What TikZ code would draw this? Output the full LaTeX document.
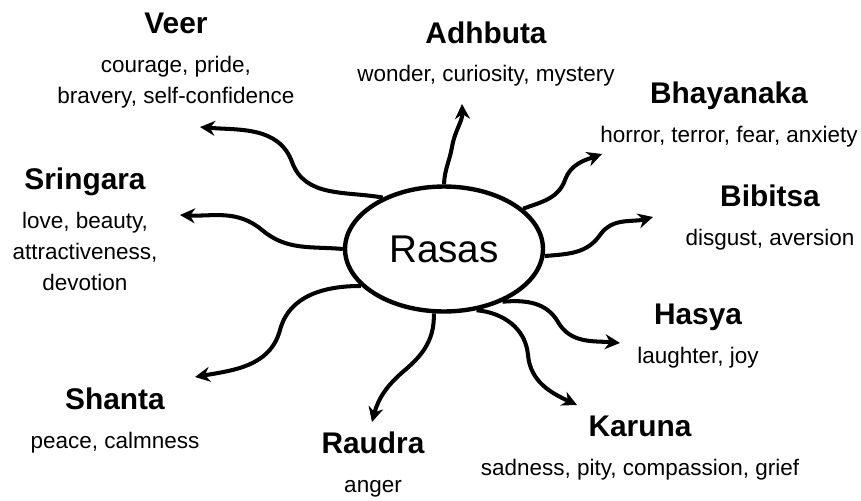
\documentclass[tikz,border=0pt]{standalone}
\usepackage{fontspec}
\setmainfont{Liberation Sans}
\usetikzlibrary{arrows.meta,positioning,shapes.geometric}
\tikzset{
	>={Stealth[length=8.5pt,width=8.5pt]},
}
\newcommand{\rasahead}[1]{{\fontsize{17}{20}\selectfont\bfseries #1}\\[4.5pt]}

\begin{document}
\begin{tikzpicture}[x=0.02cm, y=-0.02cm,
hub/.style = {ellipse, draw, line width=2.5pt, minimum width=3.96cm, minimum height=2.5cm, inner sep=0, font=\fontsize{22}{26}\selectfont},
rasa/.style = {align=center, anchor=base, inner sep=0, font=\fontsize{12.8}{17.6}\selectfont},
link/.style = {->, line width=2.3pt}]
\useasboundingbox (0,0) rectangle (861,500);
\node[hub] (rasas) at (444,249) {Rasas};
\node[rasa] (veer) at (176,103) {\rasahead{Veer}courage, pride,\\bravery, self-confidence};
\node[rasa] (adhbuta) at (486,82) {\rasahead{Adhbuta}wonder, curiosity, mystery};
\node[rasa] (bhayanaka) at (729,142) {\rasahead{Bhayanaka}horror, terror, fear, anxiety};
\node[rasa] (sringara) at (85,290) {\rasahead{Sringara}love, beauty,\\attractiveness,\\devotion};
\node[rasa] (bibitsa) at (770,245) {\rasahead{Bibitsa}disgust, aversion};
\node[rasa] (hasya) at (698,363) {\rasahead{Hasya}laughter, joy};
\node[rasa] (shanta) at (115,448) {\rasahead{Shanta}peace, calmness};
\node[rasa] (karuna) at (640,475) {\rasahead{Karuna}sadness, pity, compassion, grief};
\node[rasa] (raudra) at (373,492) {\rasahead{Raudra}anger};
\coordinate (veertip) at (200,127);
\coordinate (sringaratip) at (180,215);
\coordinate (adhbutatip) at (462,104);
\coordinate (bhayanakatip) at (602,154);
\coordinate (bibitsatip) at (653,217);
\coordinate (hasyatip) at (620,343);
\coordinate (karunatip) at (577,405);
\coordinate (raudratip) at (372,422);
\coordinate (shantatip) at (195,377);
\draw[link] (rasas.140) to[out=170,in=-70] (292,162) to[out=110,in=-5] (veertip);
\draw[link] (rasas.180) to[out=175,in=-40] (262,230) to[out=140,in=-3] (sringaratip);
\draw[link] (rasas.90) to[out=88,in=-100] (452,147) to[out=80,in=-88] (adhbutatip);
\draw[link] (rasas.27) to[out=20,in=-110] (565,180) to[out=70,in=200] (bhayanakatip);
\draw[link] (rasas.-4) to[out=5,in=-125] (600,235) to[out=55,in=195] (bibitsatip);
\draw[link] (rasas.-42) to[out=5,in=120] (558,322) to[out=-60,in=175] (hasyatip);
\draw[link] (rasas.-62) to[out=-5,in=95] (528,355) to[out=-85,in=155] (karunatip);
\draw[link] (rasas.-99) to[out=-88,in=40] (405,370) to[out=220,in=75] (raudratip);
\draw[link] (rasas.204) to[out=180,in=75] (280,330) to[out=-105,in=10] (shantatip);
\end{tikzpicture}
\end{document}
